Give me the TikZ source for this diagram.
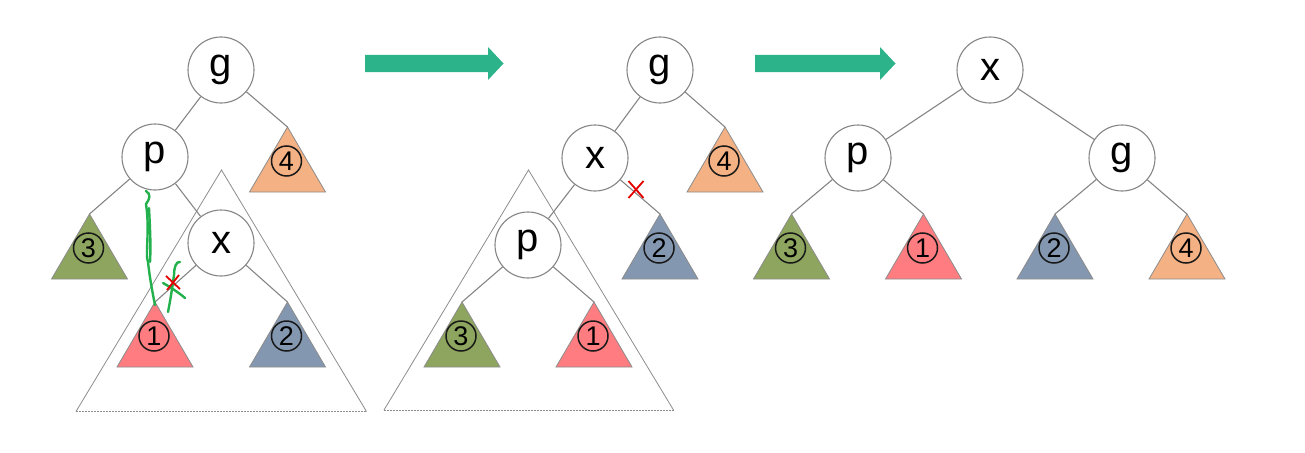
\documentclass[tikz,border=0pt]{standalone}
\usepackage{fontspec}
\setmainfont{Liberation Sans}
\usetikzlibrary{calc}
\definecolor{tred}{HTML}{FF7C80}
\definecolor{torange}{HTML}{F4B183}
\definecolor{tgreen}{HTML}{8DA55E}
\definecolor{tblue}{HTML}{8497B0}
\definecolor{arrowc}{HTML}{2DB38A}
\definecolor{linec}{HTML}{858585}
\definecolor{scrib}{HTML}{22B14C}
\tikzset{
  treenode/.style={circle, draw=linec, line width=1.1pt, fill=white, minimum size=66pt, inner sep=0pt, font=\fontsize{40}{40}\selectfont},
  edge/.style={draw=linec, line width=1.1pt},
  tri/.style={draw=black!45, line width=0.8pt},
  num/.style={circle, draw=black!90, line width=1.5pt, minimum size=30pt, inner sep=0pt, font=\fontsize{27}{27}\selectfont},
  bigtri/.style={draw=black!45, line width=0.8pt},
  bigbase/.style={draw=black!45, line width=0.8pt, dash pattern=on 2pt off 1pt},
  bigarrow/.style={fill=arrowc, draw=none},
  redx/.style={draw=red!90!black, line width=1.8pt},
  scribble/.style={draw=scrib, line width=2.4pt, line cap=round, line join=round}
}
\newcommand{\subtree}[5]{%
  \coordinate (#1) at (#2,#3);
  \draw[tri,fill=#4] (#1) -- ++(-38,65) -- ++(76,0) -- cycle;
  \node[num] (#1n) at ($(#1)+(-1,34)$) {#5};
}
\begin{document}
\begin{tikzpicture}[x=1pt,y=-1pt]
\useasboundingbox (0,0) rectangle (1305,452);
% ---------- panel 1 ----------
\draw[bigtri] (76,411.5) -- (221.5,170) -- (366.5,411.5);
\draw[bigbase] (76,411.5) -- (366.5,411.5);
\node[treenode] (ag) at (221,70) {g};
\node[treenode] (ap) at (155,157) {p};
\node[treenode] (ax) at (221,243) {x};
\subtree{at4}{287.5}{127}{torange}{4}
\subtree{at3}{89.5}{214}{tgreen}{3}
\subtree{at1}{155}{302}{tred}{1}
\subtree{at2}{287.5}{302}{tblue}{2}
\draw[edge] (ag) -- (ap);
\draw[edge] (ag) -- (at4);
\draw[edge] (ap) -- (at3);
\draw[edge] (ap) -- (ax);
\draw[edge] (ax) -- (at1);
\draw[edge] (ax) -- (at2);
% scribbles
\draw[scribble] (146,191) .. controls (151,194) and (150,199) .. (146,204)
  .. controls (150,230) and (145,255) .. (148,262)
  .. controls (150,280) and (153,295) .. (155,305);
\draw[scribble] (149,208) .. controls (150,228) and (151,245) .. (150,262);
\draw[scribble] (180,262) .. controls (176,261) and (174,268) .. (174,275)
  .. controls (172,290) and (170,302) .. (168,312);
\draw[scribble] (163,283) .. controls (170,287) and (178,292) .. (185,298);
\draw[redx] (166,276) -- (180,289) (179,275) -- (167,290);
% arrow 1
\fill[bigarrow] (365,55) -- (488,55) -- (488,47) -- (503.5,63.5) -- (488,80) -- (488,72) -- (365,72) -- cycle;
% ---------- panel 2 ----------
\draw[bigtri] (384,410) -- (528.5,170) -- (673.5,410);
\draw[bigbase] (384,410) -- (673.5,410);
\node[treenode] (bg) at (660,70) {g};
\node[treenode] (bx) at (595,158) {x};
\node[treenode] (bp) at (528,245) {p};
\subtree{bt4}{725}{127}{torange}{4}
\subtree{bt2}{660}{214}{tblue}{2}
\subtree{bt3}{462}{302}{tgreen}{3}
\subtree{bt1}{594}{302}{tred}{1}
\draw[edge] (bg) -- (bx);
\draw[edge] (bg) -- (bt4);
\draw[edge] (bx) -- (bp);
\draw[edge] (bx) -- (bt2);
\draw[edge] (bp) -- (bt3);
\draw[edge] (bp) -- (bt1);
\draw[redx] (628.5,181) -- (643.5,198) (643.5,181) -- (628.5,198);
% arrow 2
\fill[bigarrow] (755,55) -- (880,55) -- (880,47) -- (895.5,63.5) -- (880,80) -- (880,72) -- (755,72) -- cycle;
% ---------- panel 3 ----------
\node[treenode] (cx) at (990,70) {x};
\node[treenode] (cp) at (858,158) {p};
\node[treenode] (cg) at (1122,158) {g};
\subtree{ct3}{791.5}{214}{tgreen}{3}
\subtree{ct1}{923.5}{214}{tred}{1}
\subtree{ct2}{1055}{214}{tblue}{2}
\subtree{ct4}{1187}{214}{torange}{4}
\draw[edge] (cx) -- (cp);
\draw[edge] (cx) -- (cg);
\draw[edge] (cp) -- (ct3);
\draw[edge] (cp) -- (ct1);
\draw[edge] (cg) -- (ct2);
\draw[edge] (cg) -- (ct4);
\end{tikzpicture}
\end{document}
